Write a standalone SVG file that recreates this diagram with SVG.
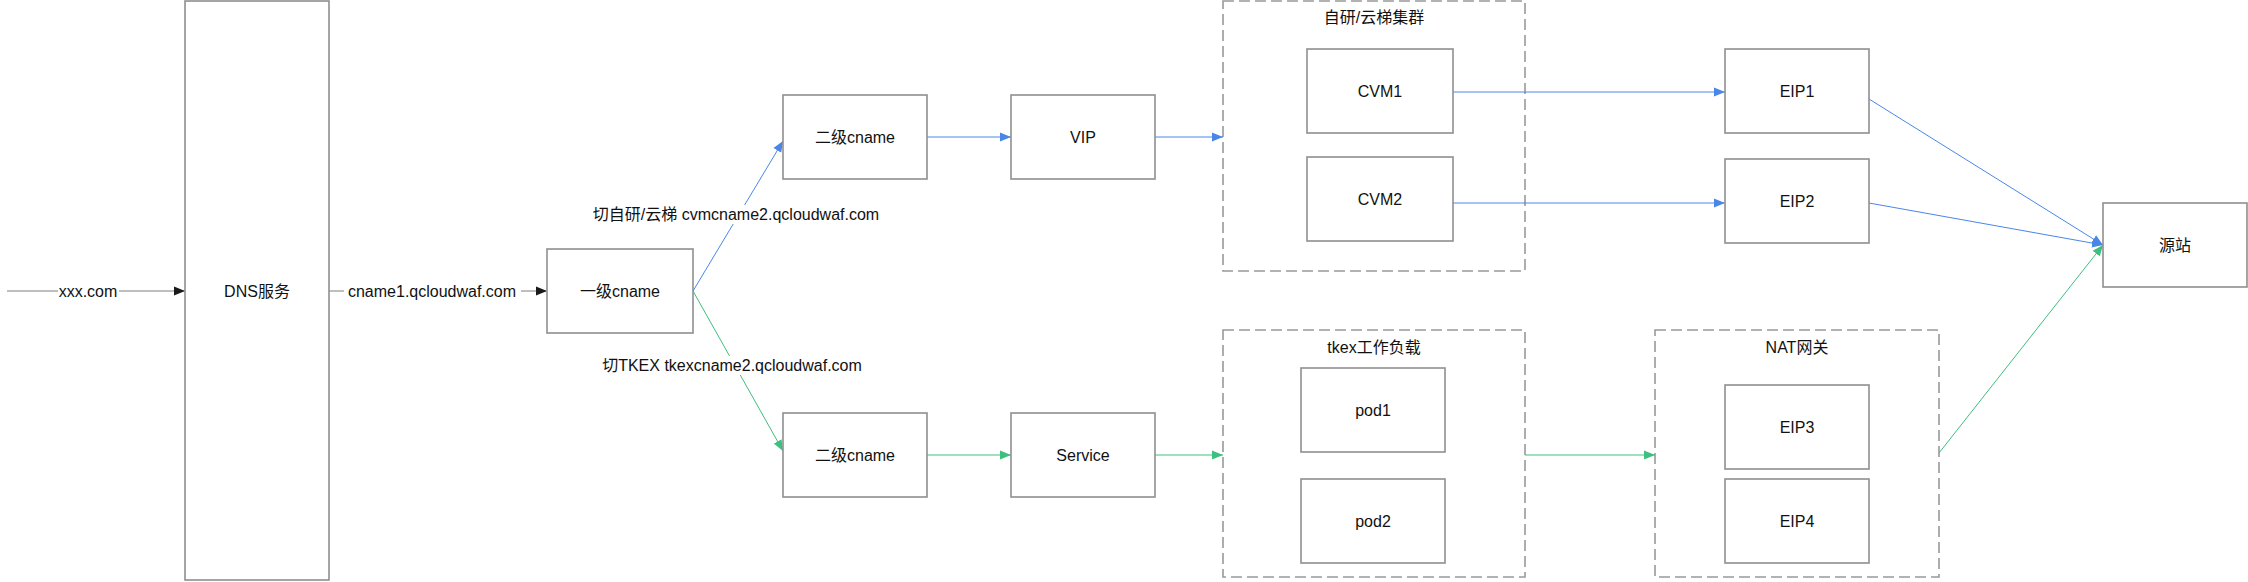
<svg xmlns="http://www.w3.org/2000/svg" width="2248" height="582" viewBox="0 0 2248 582">
<defs>
<style>
.box{fill:#ffffff;stroke:#8f8f8f;stroke-width:1.6}
.grp{fill:none;stroke:#999999;stroke-width:1.6;stroke-dasharray:11 5}
.t{font-family:"Liberation Sans","Noto Sans CJK SC",sans-serif;font-size:16px;fill:#111111;text-anchor:middle}
.k{stroke:#7f7f7f;stroke-width:1;fill:none}
.b{stroke:#4a86e8;stroke-width:1;fill:none}
.g{stroke:#3dbf7f;stroke-width:1;fill:none}
.lb{fill:#ffffff}
</style>
<marker id="ak" markerUnits="userSpaceOnUse" markerWidth="12" markerHeight="10" refX="11" refY="5" orient="auto"><path d="M0,0.5 L11,5 L0,9.5 z" fill="#1a1a1a"/></marker>
<marker id="ab" markerUnits="userSpaceOnUse" markerWidth="12" markerHeight="10" refX="11" refY="5" orient="auto"><path d="M0,0.5 L11,5 L0,9.5 z" fill="#4a86e8"/></marker>
<marker id="ag" markerUnits="userSpaceOnUse" markerWidth="12" markerHeight="10" refX="11" refY="5" orient="auto"><path d="M0,0.5 L11,5 L0,9.5 z" fill="#3dbf7f"/></marker>
</defs>

<g id="group-cluster">
<rect class="grp" x="1223" y="1" width="302" height="270"/>
<text class="t" x="1374" y="17" dy="0.35em">自研/云梯集群</text>
</g>
<g id="group-tkex">
<rect class="grp" x="1223" y="330" width="302" height="247"/>
<text class="t" x="1374" y="347" dy="0.35em">tkex工作负载</text>
</g>
<g id="group-nat">
<rect class="grp" x="1655" y="330" width="284" height="247"/>
<text class="t" x="1797" y="347" dy="0.35em">NAT网关</text>
</g>

<g id="connectors">
<line class="k" x1="7" y1="291" x2="185" y2="291" marker-end="url(#ak)"/>
<line class="k" x1="329" y1="291" x2="547" y2="291" marker-end="url(#ak)"/>
<line class="b" x1="693" y1="291" x2="783" y2="141" marker-end="url(#ab)"/>
<line class="g" x1="693" y1="291" x2="783" y2="451" marker-end="url(#ag)"/>
<line class="b" x1="927" y1="137" x2="1011" y2="137" marker-end="url(#ab)"/>
<line class="b" x1="1155" y1="137" x2="1223" y2="137" marker-end="url(#ab)"/>
<line class="g" x1="927" y1="455" x2="1011" y2="455" marker-end="url(#ag)"/>
<line class="g" x1="1155" y1="455" x2="1223" y2="455" marker-end="url(#ag)"/>
<line class="b" x1="1453" y1="92" x2="1725" y2="92" marker-end="url(#ab)"/>
<line class="b" x1="1453" y1="203" x2="1725" y2="203" marker-end="url(#ab)"/>
<line class="g" x1="1525" y1="455" x2="1655" y2="455" marker-end="url(#ag)"/>
<line class="b" x1="1869" y1="99" x2="2103" y2="245" marker-end="url(#ab)"/>
<line class="b" x1="1869" y1="203" x2="2103" y2="245" marker-end="url(#ab)"/>
<line class="g" x1="1939" y1="453" x2="2103" y2="245" marker-end="url(#ag)"/>
<rect class="lb" x="58" y="282" width="61" height="18"/>
<text class="t" x="88" y="291" dy="0.35em">xxx.com</text>
<rect class="lb" x="344" y="282" width="177" height="18"/>
<text class="t" x="432" y="291" dy="0.35em">cname1.qcloudwaf.com</text>
<rect class="lb" x="586" y="205" width="300" height="19"/>
<text class="t" x="736" y="214" dy="0.35em">切自研/云梯 cvmcname2.qcloudwaf.com</text>
<rect class="lb" x="599" y="356" width="267" height="19"/>
<text class="t" x="732" y="365" dy="0.35em">切TKEX tkexcname2.qcloudwaf.com</text>
</g>

<g id="node-dns"><rect class="box" x="185" y="1" width="144" height="579"/><text class="t" x="257" y="291" dy="0.35em">DNS服务</text></g>
<g id="node-cname1"><rect class="box" x="547" y="249" width="146" height="84"/><text class="t" x="620" y="291" dy="0.35em">一级cname</text></g>
<g id="node-cname2-top"><rect class="box" x="783" y="95" width="144" height="84"/><text class="t" x="855" y="137" dy="0.35em">二级cname</text></g>
<g id="node-cname2-bottom"><rect class="box" x="783" y="413" width="144" height="84"/><text class="t" x="855" y="455" dy="0.35em">二级cname</text></g>
<g id="node-vip"><rect class="box" x="1011" y="95" width="144" height="84"/><text class="t" x="1083" y="137" dy="0.35em">VIP</text></g>
<g id="node-service"><rect class="box" x="1011" y="413" width="144" height="84"/><text class="t" x="1083" y="455" dy="0.35em">Service</text></g>
<g id="node-cvm1"><rect class="box" x="1307" y="49" width="146" height="84"/><text class="t" x="1380" y="91" dy="0.35em">CVM1</text></g>
<g id="node-cvm2"><rect class="box" x="1307" y="157" width="146" height="84"/><text class="t" x="1380" y="199" dy="0.35em">CVM2</text></g>
<g id="node-pod1"><rect class="box" x="1301" y="368" width="144" height="84"/><text class="t" x="1373" y="410" dy="0.35em">pod1</text></g>
<g id="node-pod2"><rect class="box" x="1301" y="479" width="144" height="84"/><text class="t" x="1373" y="521" dy="0.35em">pod2</text></g>
<g id="node-eip1"><rect class="box" x="1725" y="49" width="144" height="84"/><text class="t" x="1797" y="91" dy="0.35em">EIP1</text></g>
<g id="node-eip2"><rect class="box" x="1725" y="159" width="144" height="84"/><text class="t" x="1797" y="201" dy="0.35em">EIP2</text></g>
<g id="node-eip3"><rect class="box" x="1725" y="385" width="144" height="84"/><text class="t" x="1797" y="427" dy="0.35em">EIP3</text></g>
<g id="node-eip4"><rect class="box" x="1725" y="479" width="144" height="84"/><text class="t" x="1797" y="521" dy="0.35em">EIP4</text></g>
<g id="node-origin"><rect class="box" x="2103" y="203" width="144" height="84"/><text class="t" x="2175" y="245" dy="0.35em">源站</text></g>
</svg>
